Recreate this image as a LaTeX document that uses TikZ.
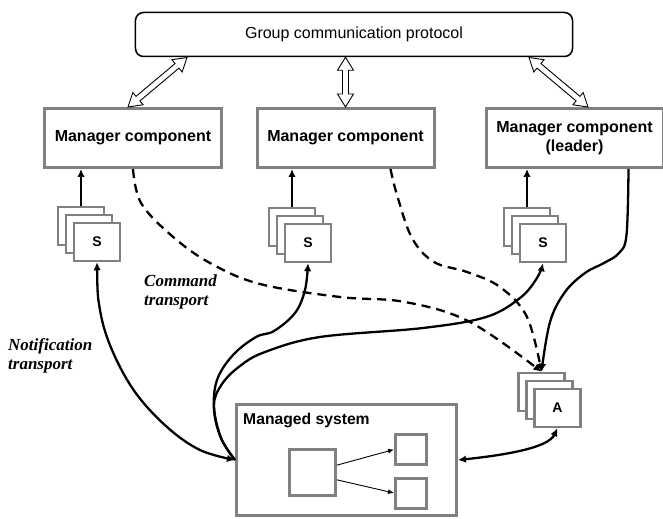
\documentclass[tikz,border=0pt]{standalone}
\usepackage{fontspec}
\setmainfont{Liberation Sans}
\newfontfamily\labelserif{Liberation Serif}
\usetikzlibrary{arrows.meta,calc}

\definecolor{boxgray}{RGB}{128,128,128}

\tikzset{
  mgr/.style={draw=boxgray, line width=3bp, fill=white, minimum width=177bp,
    minimum height=59bp, inner sep=0pt, align=center,
    font=\bfseries\fontsize{16bp}{19bp}\selectfont},
  card/.style={draw=boxgray, line width=2.5bp, fill=white, minimum width=46bp,
    minimum height=38bp, inner sep=0pt,
    font=\bfseries\fontsize{14bp}{16bp}\selectfont},
  inbox/.style={draw=boxgray, line width=3bp, fill=white, inner sep=0pt},
  link/.style={line width=2.3bp, -{Latex[length=8bp,width=7.5bp]}},
  bilink/.style={line width=2.3bp, {Latex[length=8bp,width=7.5bp]}-{Latex[length=8bp,width=7.5bp]}},
  cmdlink/.style={link, dash pattern=on 9bp off 6bp},
  thinlink/.style={line width=0.9bp, -{Latex[length=6bp,width=5bp]}},
  hollow/.style={draw=black, line width=0.9bp, fill=white, line join=miter},
  remark/.style={inner sep=0pt, align=left,
    font=\labelserif\bfseries\itshape\fontsize{17bp}{19bp}\selectfont},
}

% hollow double-headed arrow between two points; #3 prefixes helper coordinates
\newcommand\hollowlink[3]{%
  \coordinate (#3p) at ($(#1)!13bp!(#2)$);
  \coordinate (#3q) at ($(#2)!13bp!(#1)$);
  \draw[hollow] (#1) -- ($(#3p)!8bp!90:(#2)$) -- ($(#3p)!3bp!90:(#2)$)
    -- ($(#3q)!3bp!-90:(#1)$) -- ($(#3q)!8bp!-90:(#1)$) -- (#2)
    -- ($(#3q)!8bp!90:(#1)$) -- ($(#3q)!3bp!90:(#1)$)
    -- ($(#3p)!3bp!-90:(#2)$) -- ($(#3p)!8bp!-90:(#2)$) -- cycle;
}

\begin{document}
\begin{tikzpicture}[x=1bp, y=-1bp]
\fill[white] (0,0) rectangle (663,519);
\useasboundingbox (0,0) rectangle (663,519);

% group communication layer
\node[draw, line width=1.5bp, rounded corners=8bp, minimum width=437bp,
  minimum height=44bp, inner sep=0pt, font=\fontsize{16bp}{19bp}\selectfont]
  (gcp) at (354,34.5) {Group communication protocol};

% manager components
\node[mgr] (m1) at (133,138) {Manager component};
\node[mgr] (m2) at (345.5,138) {Manager component};
\node[mgr] (m3) at (574.5,138) {Manager component\\(leader)};

% sensor stacks
\node[card] (s1c) at (81,226) {};
\node[card] (s1b) at (89,234) {};
\node[card] (s1a) at (97,242) {S};
\node[card] (s2c) at (292,227) {};
\node[card] (s2b) at (300,235) {};
\node[card] (s2a) at (308,243) {S};
\node[card] (s3c) at (527,227) {};
\node[card] (s3b) at (535,235) {};
\node[card] (s3a) at (543,243) {S};

% actuator stack
\node[card] (ac) at (541.5,392) {};
\node[card] (ab) at (549.5,400) {};
\node[card] (aa) at (557.5,408) {A};

% managed system
\node[draw=boxgray, line width=3bp, minimum width=220bp, minimum height=111bp,
  inner sep=0pt] (ms) at (346.5,460) {};
\node[anchor=base west, inner sep=0pt,
  font=\bfseries\fontsize{15.7bp}{18bp}\selectfont] (mslabel) at (243,424) {Managed system};
\node[inbox, minimum width=46bp, minimum height=46bp] (core) at (312.5,472.5) {};
\node[inbox, minimum width=31bp, minimum height=30bp] (p1) at (411,449.5) {};
\node[inbox, minimum width=31bp, minimum height=30bp] (p2) at (411,493) {};
\draw[thinlink] ($(core.north east)!0.35!(core.south east)$) -- (p1.west);
\draw[thinlink] ($(core.north east)!0.65!(core.south east)$) -- (p2.west);

% links to the group communication protocol
\coordinate (h1a) at ($(m1.north)+(-5,0)$);
\coordinate (h1b) at (187,57.5);
\coordinate (h2b) at (m2.north |- gcp.south);
\coordinate (h3a) at ($(m3.north)+(13.5,0)$);
\coordinate (h3b) at (529,57.5);
\hollowlink{h1a}{h1b}{hl}
\hollowlink{m2.north}{h2b}{hm}
\hollowlink{h3a}{h3b}{hr}

% sensors report to their managers
\draw[link] (s1c.north) -- (s1c.north |- m1.south);
\draw[link] (s2c.north) -- (s2c.north |- m2.south);
\draw[link] (s3c.north) -- (s3c.north |- m3.south);

% notification transport
\draw[bilink] plot[smooth, tension=0.6] coordinates
  {(s1a.south) (100,310) (112,350) (135,392) (167,427) (200,450) (ms.west)};
\draw[link] plot[smooth, tension=0.6] coordinates
  {(ms.west) (221,438) (214,410) (217,380) (233,355) (256,337) (274,331)
   (295,313) (305,290) (s2a.south)};
\draw[link] plot[smooth, tension=0.6] coordinates
  {(ms.west) (221,438) (214,405) (222,384) (240,366) (265,352) (320,337)
   (423,328) (486,317) (520,298) (537,278) (s3a.south)};

% command transport
\coordinate (c2) at ($(m2.south)!0.5!(m2.south east)$);
\coordinate (c3) at ($(m3.south)!0.6!(m3.south east)$);
\draw[cmdlink] plot[smooth, tension=0.6] coordinates
  {(m1.south) (141,203) (172,236) (210,263) (260,284) (340,297) (405,302)
   (470,322) (ac.north)};
\draw[cmdlink] plot[smooth, tension=0.6] coordinates
  {(c2) (397,195) (412,238) (434,262) (467,272) (500,287) (527,317) (ac.north)};
\draw[link] plot[smooth, tension=0.6] coordinates
  {(c3) (626.5,235) (619,253) (604,263) (585,273) (565,292) (550,322) (ac.north)};

% actuators act on the managed system
\draw[bilink] (ms.east) .. controls (505,455) and (548,448) .. (aa.south);

% transport labels
\node[remark, anchor=north west] (cmdlabel) at (144,275) {Command\\transport};
\node[remark, anchor=north west] (notlabel) at (8,338) {Notification\\transport};
\end{tikzpicture}
\end{document}
